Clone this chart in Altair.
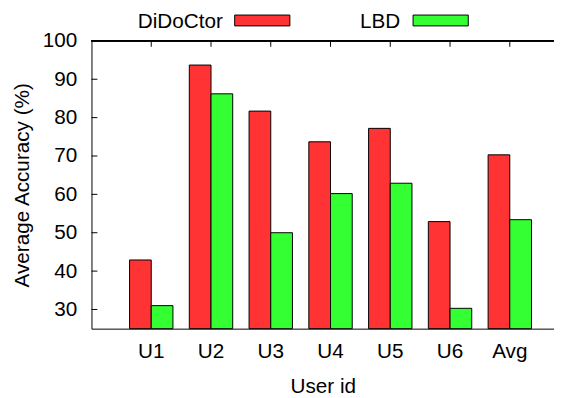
import altair as alt
import pandas as pd

users = ["U1", "U2", "U3", "U4", "U5", "U6", "Avg"]
series = ["DiDoCtor", "LBD"]
didoctor = [42.9, 93.7, 81.7, 73.7, 77.2, 52.9, 70.3]
lbd = [31.0, 86.2, 50.0, 60.2, 62.9, 30.3, 53.4]
y_ticks = [30, 40, 50, 60, 70, 80, 90, 100]
colors = ["#ff3333", "#33ff33"]

rows = []
for u, a, b in zip(users, didoctor, lbd):
    rows.append({"user": u, "series": series[0], "value": a})
    rows.append({"user": u, "series": series[1], "value": b})
df = pd.DataFrame(rows)
df_users = pd.DataFrame({"user": users})
df_ticks = pd.DataFrame({"tick": y_ticks})

W = 469.3
H = 292
FONT = "Liberation Sans"
FS = 21

xscale = alt.Scale(domain=users, paddingInner=0, paddingOuter=0.37, align=0.676)
yscale = alt.Scale(domain=[25, 100], nice=False, zero=False)

bars = alt.Chart(df).mark_bar(stroke="black", strokeWidth=1, opacity=1).encode(
    x=alt.X("user:N", sort=users, scale=xscale,
            axis=alt.Axis(title="User id", ticks=False, labelAngle=0,
                          labelFont=FONT, labelFontSize=FS, labelColor="black",
                          labelPadding=12, domainColor="black", domainWidth=1,
                          titleFont=FONT, titleFontSize=FS, titleFontWeight="normal",
                          titleColor="black", titleBaseline="alphabetic",
                          titleY=65, titleX=W / 2)),
    xOffset=alt.XOffset("series:N", sort=series,
                        scale=alt.Scale(domain=series, paddingInner=0, paddingOuter=0.377)),
    y=alt.Y("value:Q", scale=yscale,
            axis=alt.Axis(title="Average Accuracy (%)", values=y_ticks, ticks=False,
                          grid=False, labelFont=FONT, labelFontSize=FS,
                          labelColor="black", labelPadding=15, domainColor="black",
                          domainWidth=1, titleFont=FONT, titleFontSize=FS,
                          titleFontWeight="normal", titleColor="black",
                          titleAngle=-90, titleAlign="center", titleBaseline="middle",
                          titleX=-70, titleY=H / 2)),
    y2=alt.datum(25),
    color=alt.Color("series:N", sort=series,
                    scale=alt.Scale(domain=series, range=colors), legend=None),
)

top_line = alt.Chart(df_users).mark_rule(color="black", strokeWidth=1).encode(
    x=alt.value(0), x2=alt.value(W), y=alt.value(0)
)

top_ticks = alt.Chart(df_users).mark_rule(color="black", strokeWidth=1).encode(
    x=alt.X("user:N", sort=users, scale=xscale),
    y=alt.value(0), y2=alt.value(6)
)

left_ticks = alt.Chart(df_ticks).mark_rule(color="black", strokeWidth=1).encode(
    y=alt.Y("tick:Q", scale=yscale),
    x=alt.value(0), x2=alt.value(6)
)

leg_df = pd.DataFrame({"series": series})
legend_layers = []
legend_pos = [(133.3, 145.3), (313.3, 326.3)]
for i, s in enumerate(series):
    d = leg_df[leg_df["series"] == s]
    tx, bx = legend_pos[i]
    legend_layers.append(
        alt.Chart(d).mark_text(align="right", baseline="alphabetic", font=FONT,
                               fontSize=FS, color="black").encode(
            text="series:N", x=alt.value(tx), y=alt.value(-13.5))
    )
    legend_layers.append(
        alt.Chart(d).mark_rect(stroke="black", strokeWidth=1, color=colors[i]).encode(
            x=alt.value(bx), x2=alt.value(bx + 56), y=alt.value(-26.2), y2=alt.value(-15.2))
    )

chart = alt.layer(bars, top_ticks, left_ticks, top_line, *legend_layers).properties(
    width=W, height=H,
    autosize=alt.AutoSizeParams(type="none"),
    padding={"left": 84.7, "top": 30.5, "right": 0, "bottom": 67.5},
    background="white",
).configure_view(stroke=None)

chart.save("out.html", embed_options={"renderer": "svg", "actions": False})
